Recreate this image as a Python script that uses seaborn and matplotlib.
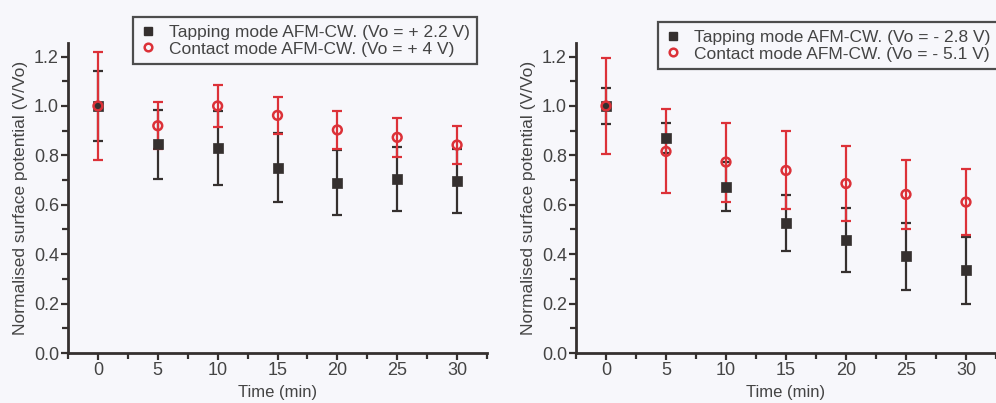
import matplotlib
matplotlib.use("Agg")
import matplotlib.pyplot as plt
from matplotlib.ticker import MultipleLocator
from matplotlib.lines import Line2D
import seaborn as sns
import pandas as pd

# ---- data ----
time_min = [0, 5, 10, 15, 20, 25, 30]

# left panel (positive voltage)
tap_pos = [1.00, 0.845, 0.83, 0.75, 0.69, 0.703, 0.695]
tap_pos_err = [0.14, 0.14, 0.15, 0.14, 0.13, 0.13, 0.13]
con_pos = [1.00, 0.92, 1.00, 0.962, 0.903, 0.873, 0.842]
con_pos_err = [0.22, 0.095, 0.085, 0.075, 0.077, 0.08, 0.077]

# right panel (negative voltage)
tap_neg = [1.00, 0.87, 0.674, 0.526, 0.458, 0.391, 0.334]
tap_neg_err = [0.072, 0.06, 0.10, 0.115, 0.13, 0.134, 0.135]
con_neg = [1.00, 0.816, 0.773, 0.739, 0.686, 0.642, 0.611]
con_neg_err = [0.195, 0.17, 0.16, 0.158, 0.15, 0.14, 0.133]

labels_left = ["Tapping mode AFM-CW. (Vo = + 2.2 V)", "Contact mode AFM-CW. (Vo = + 4 V)"]
labels_right = ["Tapping mode AFM-CW. (Vo = - 2.8 V)", "Contact mode AFM-CW. (Vo = - 5.1 V)"]
xlabel = "Time (min)"
ylabel = "Normalised surface potential (V/Vo)"
ytick_labels = ["0.0", "0.2", "0.4", "0.6", "0.8", "1.0", "1.2"]

# ---- style ----
sns.set_style("ticks")
plt.rcParams['font.family'] = ['Liberation Sans', 'DejaVu Sans']
BG = "#f7f7fb"
DARK = "#35302f"
RED = "#dc3138"
TXT = "#444444"

fig = plt.figure(figsize=(9.96, 4.03), dpi=100, facecolor=BG)
ax1 = fig.add_axes([68/996, 1-353/403, (487-68)/996, (353-43)/403])
ax2 = fig.add_axes([576/996, 1-353/403, (996-576)/996, (353-43)/403])


def panel(ax, tap, tap_err, con, con_err, labels, legend_anchor):
    ax.set_facecolor(BG)
    df_t = pd.DataFrame({"t": time_min, "v": tap, "e": tap_err})
    df_c = pd.DataFrame({"t": time_min, "v": con, "e": con_err})
    ax.errorbar(df_t["t"], df_t["v"], yerr=df_t["e"], fmt="none", ecolor=DARK,
                elinewidth=1.6, capsize=3.6, capthick=1.6, zorder=2)
    ax.errorbar(df_c["t"], df_c["v"], yerr=df_c["e"], fmt="none", ecolor=RED,
                elinewidth=1.6, capsize=3.6, capthick=1.6, zorder=3)
    sns.scatterplot(data=df_t, x="t", y="v", ax=ax, marker="s", s=42,
                    color=DARK, edgecolor=DARK, linewidth=0.5, zorder=4, legend=False)
    sns.scatterplot(data=df_c, x="t", y="v", ax=ax, marker="o", s=40,
                    facecolor="none", edgecolor=RED, linewidth=1.8, zorder=5, legend=False)
    ax.set_xlim(-2.5, 32.5)
    ax.set_ylim(0, 1.255)
    ax.xaxis.set_major_locator(MultipleLocator(5))
    ax.xaxis.set_minor_locator(MultipleLocator(2.5))
    ax.yaxis.set_minor_locator(MultipleLocator(0.1))
    ax.set_yticks([0, 0.2, 0.4, 0.6, 0.8, 1.0, 1.2])
    ax.set_yticklabels(ytick_labels)
    ax.tick_params(axis="both", which="major", length=5, width=1.6, color=DARK,
                   labelsize=13, labelcolor=TXT, pad=1.5)
    ax.tick_params(axis="both", which="minor", length=4, width=1.6, color=DARK)
    for s in ["top", "right"]:
        ax.spines[s].set_visible(False)
    for s in ["left", "bottom"]:
        ax.spines[s].set_linewidth(2.0)
        ax.spines[s].set_color(DARK)
    ax.set_xlabel(xlabel, fontsize=12, color=TXT, labelpad=4)
    ax.set_ylabel(ylabel, fontsize=12.5, color=TXT, labelpad=4)
    handles = [
        Line2D([], [], marker="s", linestyle="none", color=DARK, markersize=5.5),
        Line2D([], [], marker="o", linestyle="none", markerfacecolor="none",
               markeredgecolor=RED, markeredgewidth=1.8, markersize=5.5),
    ]
    leg = fig.legend(handles, labels, loc="upper left", bbox_to_anchor=legend_anchor,
                     bbox_transform=fig.transFigure, fontsize=12.5, frameon=True,
                     fancybox=False, edgecolor="#222222", facecolor=BG,
                     handlelength=0.8, handletextpad=0.8, labelspacing=0.08,
                     borderpad=0.45, borderaxespad=0)
    leg.get_frame().set_linewidth(1.6)
    for t in leg.get_texts():
        t.set_color(TXT)


panel(ax1, tap_pos, tap_pos_err, con_pos, con_pos_err, labels_left, (133/996, 1-17/403))
panel(ax2, tap_neg, tap_neg_err, con_neg, con_neg_err, labels_right, (658/996, 1-22/403))

fig.savefig("out.png", dpi=100, facecolor=BG)
